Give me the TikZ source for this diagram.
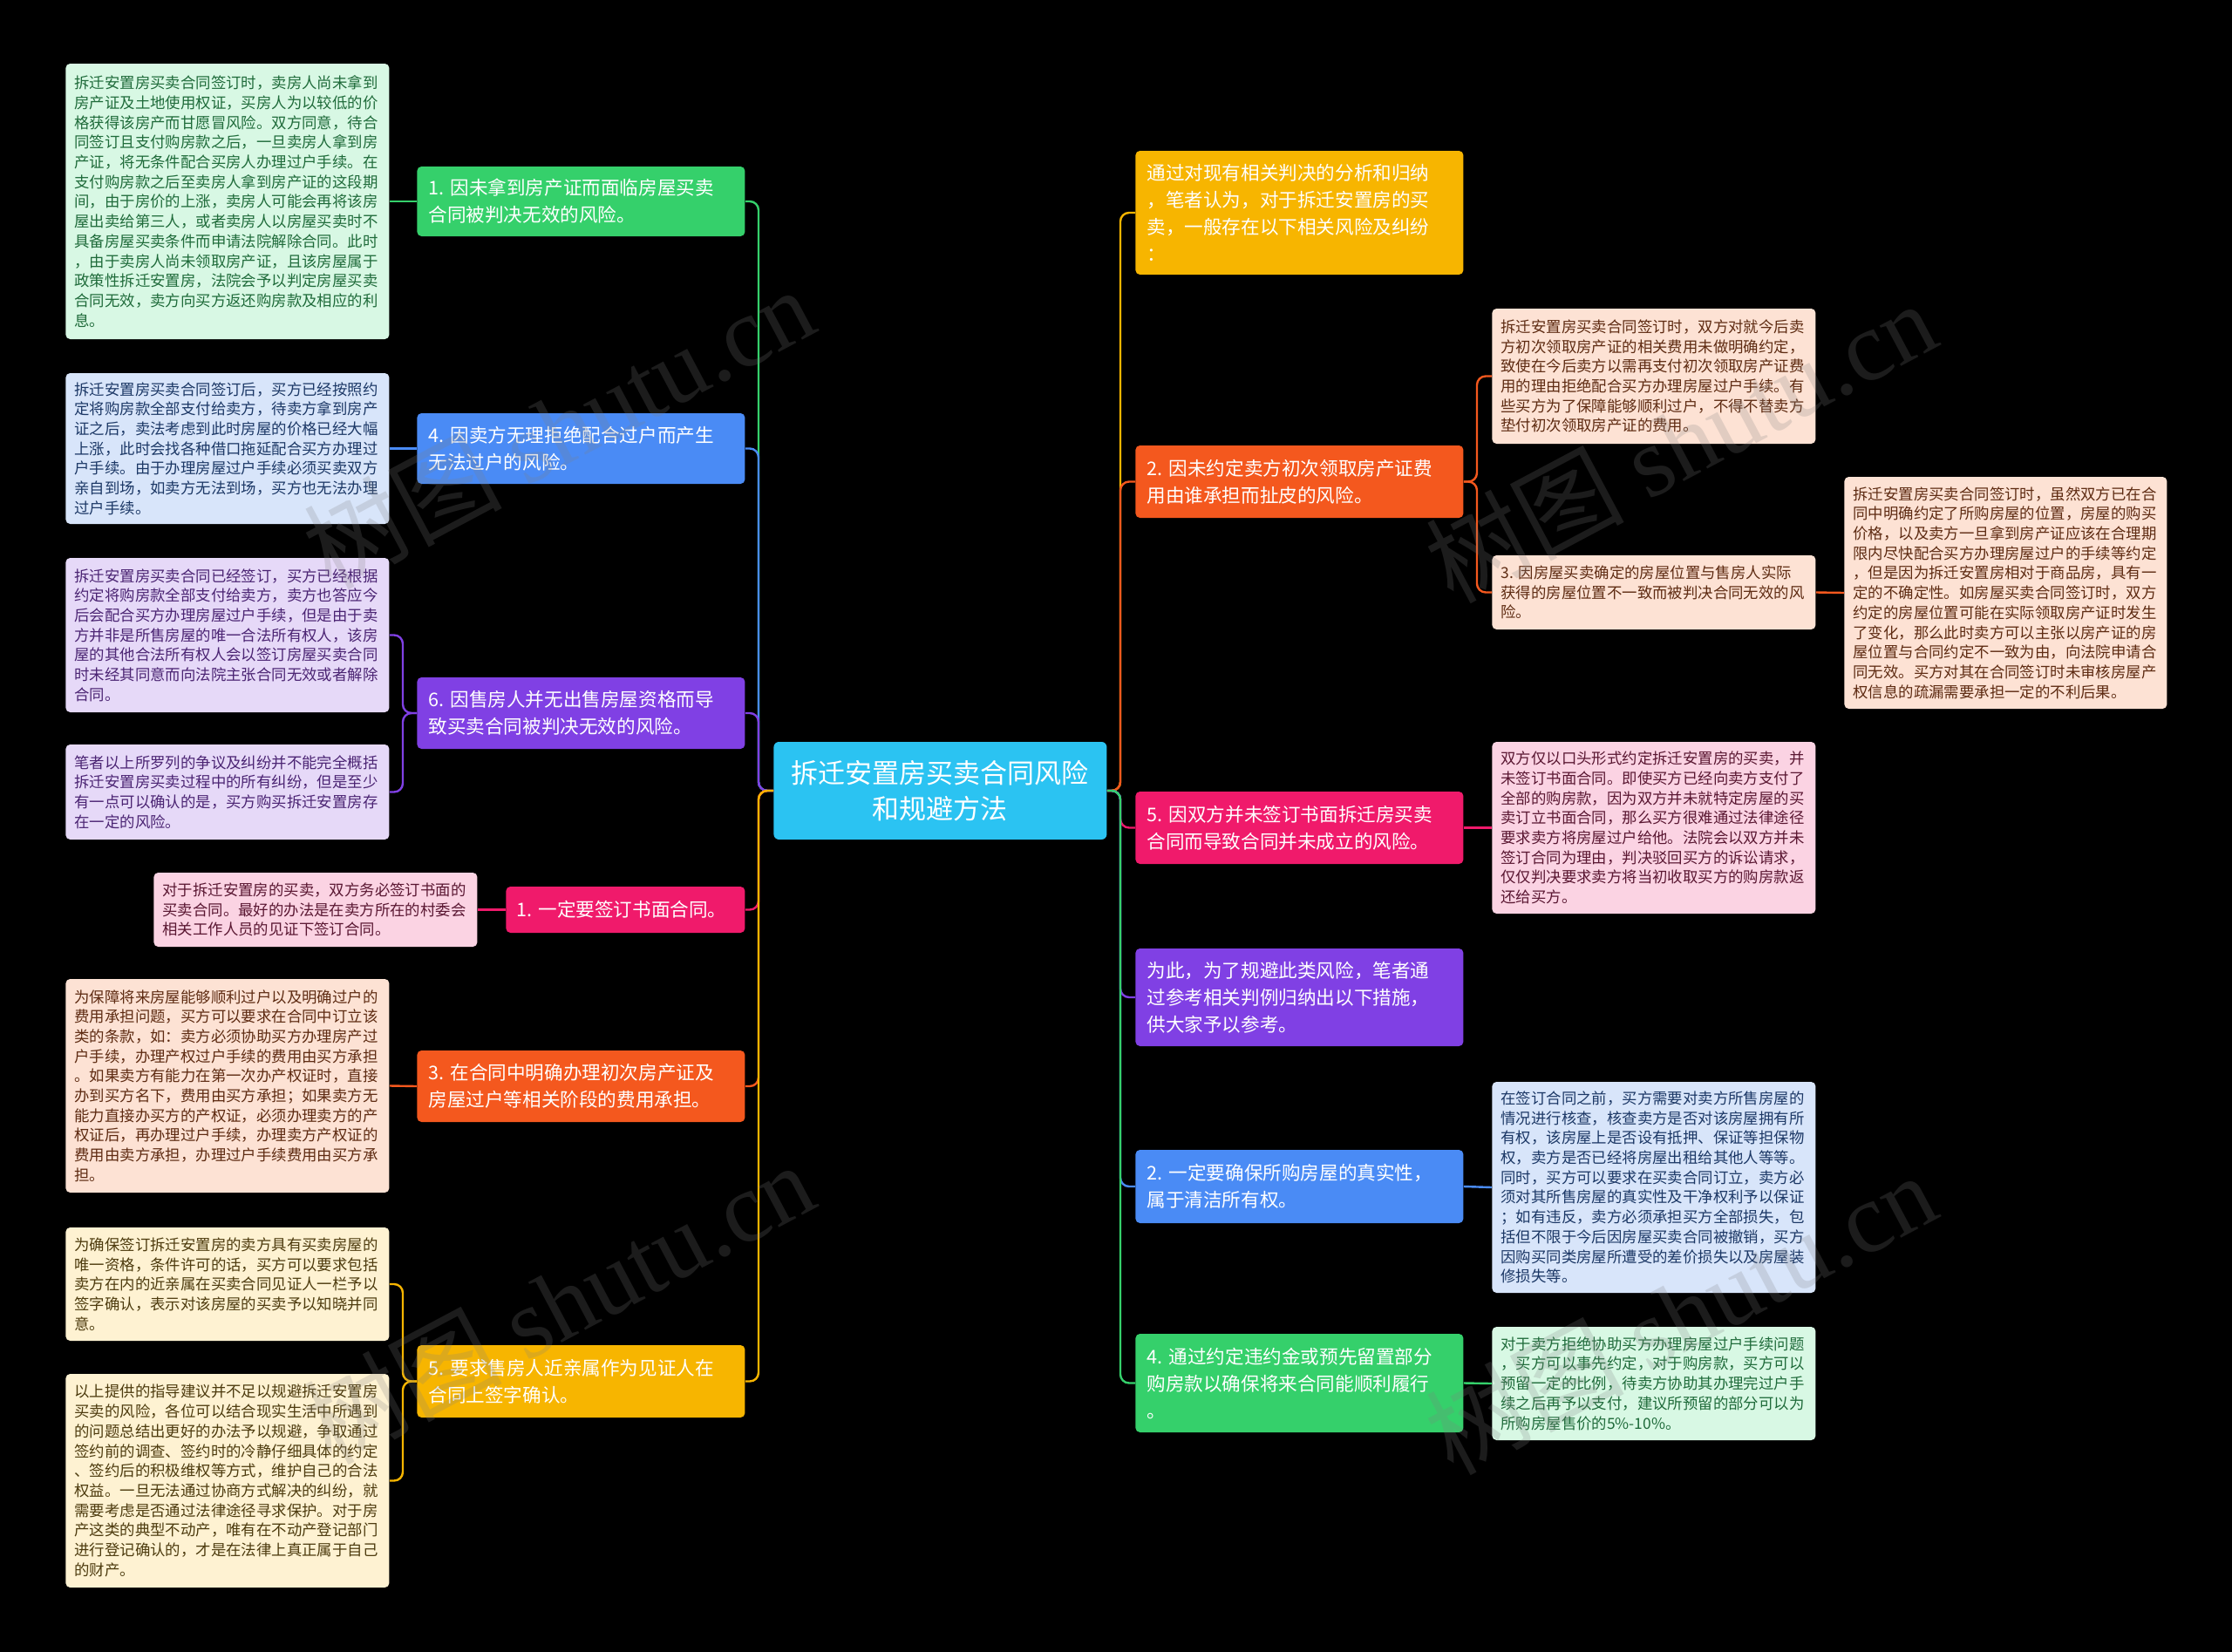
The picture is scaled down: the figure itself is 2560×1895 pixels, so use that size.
\documentclass[tikz,border=0pt]{standalone}
\usepackage{fontspec}
\setmainfont{Noto Sans CJK SC}
\newfontfamily\wmserif{Liberation Serif}
\definecolor{cenc}{HTML}{2BC3F2}
\definecolor{gm}{HTML}{35D06B}
\definecolor{bm}{HTML}{4A8BF5}
\definecolor{pm}{HTML}{8040E4}
\definecolor{km}{HTML}{F01A6B}
\definecolor{om}{HTML}{F4581E}
\definecolor{ym}{HTML}{F7B500}
\definecolor{gl}{HTML}{D8F8E4}\definecolor{gt}{HTML}{1F6B3A}
\definecolor{bl}{HTML}{D8E5FA}\definecolor{bt}{HTML}{1C3866}
\definecolor{pl}{HTML}{E6D9F8}\definecolor{pt}{HTML}{4B2473}
\definecolor{kl}{HTML}{FBD3E3}\definecolor{kt}{HTML}{5A1732}
\definecolor{ol}{HTML}{FDE2D4}\definecolor{ot}{HTML}{5E2B12}
\definecolor{yl}{HTML}{FEF2D2}\definecolor{yt}{HTML}{4D3B0E}
\begin{document}
\begin{tikzpicture}[x=0.5pt,y=-0.5pt,
 leaf/.style={anchor=west, rounded corners=2.5pt, inner xsep=5pt, inner ysep=0pt, text width=175.5pt, align=left, font=\fontsize{8.7pt}{11.35pt}\selectfont},
 mainbox/.style={anchor=west, rounded corners=2.5pt, inner xsep=6.5pt, inner ysep=0pt, text width=175pt, align=left, text=white, font=\fontsize{10.8pt}{15.5pt}\selectfont},
 conn/.style={line width=1.2pt, rounded corners=5pt},
 wm/.style={rotate=28, text=gray, opacity=0.22, font=\fontsize{57pt}{57pt}\selectfont}]
\fill[black] (0,0) rectangle (2560,1895);
\useasboundingbox (0,0) rectangle (2560,1895);

% trunks
\coordinate (tL) at (870,907);
\coordinate (tR) at (1285,907);
\coordinate (tLx) at (462,0);
\coordinate (tRx) at (1694,0);

% center
\node[anchor=west, fill=cenc, rounded corners=3pt, minimum width=191pt, minimum height=56pt, inner sep=0pt, text=white, align=center, font=\fontsize{15.5pt}{20.5pt}\selectfont] (C) at (887,907) {拆迁安置房买卖合同风险\\和规避方法};

% left main
\node[mainbox, fill=gm, minimum height=40pt] (L1) at (478,231) {1.~因未拿到房产证而面临房屋买卖\\合同被判决无效的风险。};
\node[mainbox, fill=bm, minimum height=40.5pt] (L4) at (478,514.5) {4.~因卖方无理拒绝配合过户而产生\\无法过户的风险。};
\node[mainbox, fill=pm, minimum height=41pt] (L6) at (478,818) {6.~因售房人并无出售房屋资格而导\\致买卖合同被判决无效的风险。};
\node[mainbox, fill=km, minimum height=26.5pt, text width=125pt, inner xsep=6pt] (L1b) at (580,1043.5) {1.~一定要签订书面合同。};
\node[mainbox, fill=om, minimum height=41pt] (L3) at (478,1246) {3.~在合同中明确办理初次房产证及\\房屋过户等相关阶段的费用承担。};
\node[mainbox, fill=ym, minimum height=41.5pt] (L5) at (478,1584.5) {5.~要求售房人近亲属作为见证人在\\合同上签字确认。};

% right main
\node[mainbox, fill=ym, minimum height=71pt] (R0) at (1302,244) {通过对现有相关判决的分析和归纳\\，笔者认为，对于拆迁安置房的买\\卖，一般存在以下相关风险及纠纷\\：};
\node[mainbox, fill=om, minimum height=41.5pt] (R2) at (1302,552.5) {2.~因未约定卖方初次领取房产证费\\用由谁承担而扯皮的风险。};
\node[mainbox, fill=km, minimum height=41.5pt] (R5) at (1302,949.5) {5.~因双方并未签订书面拆迁房买卖\\合同而导致合同并未成立的风险。};
\node[mainbox, fill=pm, minimum height=56pt] (RF) at (1302,1144) {为此，为了规避此类风险，笔者通\\过参考相关判例归纳出以下措施，\\供大家予以参考。};
\node[mainbox, fill=bm, minimum height=42pt] (R2b) at (1302,1361) {2.~一定要确保所购房屋的真实性，\\属于清洁所有权。};
\node[mainbox, fill=gm, minimum height=56.5pt] (R4) at (1302,1586.5) {4.~通过约定违约金或预先留置部分\\购房款以确保将来合同能顺利履行\\。};

% left leaves
\node[leaf, fill=gl, text=gt, minimum height=158pt] (LL1) at (75,231) {拆迁安置房买卖合同签订时，卖房人尚未拿到\\房产证及土地使用权证，买房人为以较低的价\\格获得该房产而甘愿冒风险。双方同意，待合\\同签订且支付购房款之后，一旦卖房人拿到房\\产证，将无条件配合买房人办理过户手续。在\\支付购房款之后至卖房人拿到房产证的这段期\\间，由于房价的上涨，卖房人可能会再将该房\\屋出卖给第三人，或者卖房人以房屋买卖时不\\具备房屋买卖条件而申请法院解除合同。此时\\，由于卖房人尚未领取房产证，且该房屋属于\\政策性拆迁安置房，法院会予以判定房屋买卖\\合同无效，卖方向买方返还购房款及相应的利\\息。};
\node[leaf, fill=bl, text=bt, minimum height=86.5pt] (LL4) at (75,514.5) {拆迁安置房买卖合同签订后，买方已经按照约\\定将购房款全部支付给卖方，待卖方拿到房产\\证之后，卖法考虑到此时房屋的价格已经大幅\\上涨，此时会找各种借口拖延配合买方办理过\\户手续。由于办理房屋过户手续必须买卖双方\\亲自到场，如卖方无法到场，买方也无法办理\\过户手续。};
\node[leaf, fill=pl, text=pt, minimum height=88.5pt] (LL6a) at (75,728.5) {拆迁安置房买卖合同已经签订，买方已经根据\\约定将购房款全部支付给卖方，卖方也答应今\\后会配合买方办理房屋过户手续，但是由于卖\\方并非是所售房屋的唯一合法所有权人，该房\\屋的其他合法所有权人会以签订房屋买卖合同\\时未经其同意而向法院主张合同无效或者解除\\合同。};
\node[leaf, fill=pl, text=pt, minimum height=54.5pt] (LL6b) at (75,908.5) {笔者以上所罗列的争议及纠纷并不能完全概括\\拆迁安置房买卖过程中的所有纠纷，但是至少\\有一点可以确认的是，买方购买拆迁安置房存\\在一定的风险。};
\node[leaf, fill=kl, text=kt, minimum height=42.5pt] (LL1b) at (176,1043.5) {对于拆迁安置房的买卖，双方务必签订书面的\\买卖合同。最好的办法是在卖方所在的村委会\\相关工作人员的见证下签订合同。};
\node[leaf, fill=ol, text=ot, minimum height=122.5pt] (LL3) at (75,1245.5) {为保障将来房屋能够顺利过户以及明确过户的\\费用承担问题，买方可以要求在合同中订立该\\类的条款，如：卖方必须协助买方办理房产过\\户手续，办理产权过户手续的费用由买方承担\\。如果卖方有能力在第一次办产权证时，直接\\办到买方名下，费用由买方承担；如果卖方无\\能力直接办买方的产权证，必须办理卖方的产\\权证后，再办理过户手续，办理卖方产权证的\\费用由卖方承担，办理过户手续费用由买方承\\担。};
\node[leaf, fill=yl, text=yt, minimum height=65pt] (LL5a) at (75,1473) {为确保签订拆迁安置房的卖方具有买卖房屋的\\唯一资格，条件许可的话，买方可以要求包括\\卖方在内的近亲属在买卖合同见证人一栏予以\\签字确认，表示对该房屋的买卖予以知晓并同\\意。};
\node[leaf, fill=yl, text=yt, minimum height=122.5pt] (LL5b) at (75,1698.5) {以上提供的指导建议并不足以规避拆迁安置房\\买卖的风险，各位可以结合现实生活中所遇到\\的问题总结出更好的办法予以规避，争取通过\\签约前的调查、签约时的冷静仔细具体的约定\\、签约后的积极维权等方式，维护自己的合法\\权益。一旦无法通过协商方式解决的纠纷，就\\需要考虑是否通过法律途径寻求保护。对于房\\产这类的典型不动产，唯有在不动产登记部门\\进行登记确认的，才是在法律上真正属于自己\\的财产。};

% right leaves
\node[leaf, fill=ol, text=ot, minimum height=77.5pt] (RL2a) at (1711,431.5) {拆迁安置房买卖合同签订时，双方对就今后卖\\方初次领取房产证的相关费用未做明确约定，\\致使在今后卖方以需再支付初次领取房产证费\\用的理由拒绝配合买方办理房屋过户手续。有\\些买方为了保障能够顺利过户，不得不替卖方\\垫付初次领取房产证的费用。};
\node[leaf, fill=ol, text=ot, minimum height=42.5pt] (RL3) at (1711,679.5) {3.~因房屋买卖确定的房屋位置与售房人实际\\获得的房屋位置不一致而被判决合同无效的风\\险。};
\node[leaf, fill=ol, text=ot, minimum height=133pt, text width=175pt] (RL3x) at (2115,680) {拆迁安置房买卖合同签订时，虽然双方已在合\\同中明确约定了所购房屋的位置，房屋的购买\\价格，以及卖方一旦拿到房产证应该在合理期\\限内尽快配合买方办理房屋过户的手续等约定\\，但是因为拆迁安置房相对于商品房，具有一\\定的不确定性。如房屋买卖合同签订时，双方\\约定的房屋位置可能在实际领取房产证时发生\\了变化，那么此时卖方可以主张以房产证的房\\屋位置与合同约定不一致为由，向法院申请合\\同无效。买方对其在合同签订时未审核房屋产\\权信息的疏漏需要承担一定的不利后果。};
\node[leaf, fill=kl, text=kt, minimum height=98.5pt] (RL5) at (1711,949.5) {双方仅以口头形式约定拆迁安置房的买卖，并\\未签订书面合同。即使买方已经向卖方支付了\\全部的购房款，因为双方并未就特定房屋的买\\卖订立书面合同，那么买方很难通过法律途径\\要求卖方将房屋过户给他。法院会以双方并未\\签订合同为理由，判决驳回买方的诉讼请求，\\仅仅判决要求卖方将当初收取买方的购房款返\\还给买方。};
\node[leaf, fill=bl, text=bt, minimum height=121pt] (RL2b) at (1711,1362) {在签订合同之前，买方需要对卖方所售房屋的\\情况进行核查，核查卖方是否对该房屋拥有所\\有权，该房屋上是否设有抵押、保证等担保物\\权，卖方是否已经将房屋出租给其他人等等。\\同时，买方可以要求在买卖合同订立，卖方必\\须对其所售房屋的真实性及干净权利予以保证\\；如有违反，卖方必须承担买方全部损失，包\\括但不限于今后因房屋买卖合同被撤销，买方\\因购买同类房屋所遭受的差价损失以及房屋装\\修损失等。};
\node[leaf, fill=gl, text=gt, minimum height=65pt] (RL4) at (1711,1587) {对于卖方拒绝协助买方办理房屋过户手续问题\\，买方可以事先约定，对于购房款，买方可以\\预留一定的比例，待卖方协助其办理完过户手\\续之后再予以支付，建议所预留的部分可以为\\所购房屋售价的5\%-10\%。};

% center -> left main
\draw[conn, gm] (C.west) -- (tL) |- (L1.east);
\draw[conn, bm] (C.west) -- (tL) |- (L4.east);
\draw[conn, pm] (C.west) -- (tL) |- (L6.east);
\draw[conn, km] (C.west) -- (tL) |- (L1b.east);
\draw[conn, om] (C.west) -- (tL) |- (L3.east);
\draw[conn, ym] (C.west) -- (tL) |- (L5.east);
% center -> right main
\draw[conn, ym] (C.east) -- (tR) |- (R0.west);
\draw[conn, om] (C.east) -- (tR) |- (R2.west);
\draw[conn, km] (C.east) -- (tR) |- (R5.west);
\draw[conn, pm] (C.east) -- (tR) |- (RF.west);
\draw[conn, bm] (C.east) -- (tR) |- (R2b.west);
\draw[conn, gm] (C.east) -- (tR) |- (R4.west);
% left main -> leaves
\draw[conn, gm] (L1.west) -- (LL1.east);
\draw[conn, bm] (L4.west) -- (LL4.east);
\draw[conn, pm] (L6.west) -- (L6.west -| tLx) |- (LL6a.east);
\draw[conn, pm] (L6.west) -- (L6.west -| tLx) |- (LL6b.east);
\draw[conn, km] (L1b.west) -- (LL1b.east);
\draw[conn, om] (L3.west) -- (LL3.east);
\draw[conn, ym] (L5.west) -- (L5.west -| tLx) |- (LL5a.east);
\draw[conn, ym] (L5.west) -- (L5.west -| tLx) |- (LL5b.east);
% right main -> leaves
\draw[conn, om] (R2.east) -- (R2.east -| tRx) |- (RL2a.west);
\draw[conn, om] (R2.east) -- (R2.east -| tRx) |- (RL3.west);
\draw[conn, om] (RL3.east) -- (RL3x.west);
\draw[conn, km] (R5.east) -- (RL5.west);
\draw[conn, bm] (R2b.east) -- (RL2b.west);
\draw[conn, gm] (R4.east) -- (RL4.west);

% watermarks
\node[wm] (W1) at (640,490) {树图~{\wmserif shutu.cn}};
\node[wm] (W2) at (1927,506) {树图~{\wmserif shutu.cn}};
\node[wm] (W3) at (640,1494) {树图~{\wmserif shutu.cn}};
\node[wm] (W4) at (1927,1506) {树图~{\wmserif shutu.cn}};
\end{tikzpicture}
\end{document}
